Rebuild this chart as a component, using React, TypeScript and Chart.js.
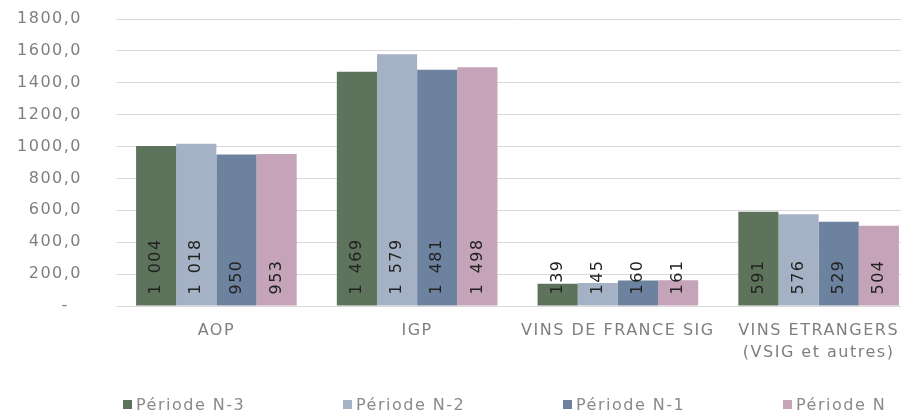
import React, { useEffect, useRef } from "react";
import { Chart, registerables } from "chart.js";

Chart.register(...registerables);

const categories: (string | string[])[] = [
  "AOP",
  "IGP",
  "VINS DE FRANCE SIG",
  ["VINS ETRANGERS", "(VSIG et autres)"],
];
const seriesNames = ["Période N-3", "Période N-2", "Période N-1", "Période N"];
const periodeN3 = [1004, 1469, 139, 591];
const periodeN2 = [1018, 1579, 145, 576];
const periodeN1 = [950, 1481, 160, 529];
const periodeN = [953, 1498, 161, 504];
const seriesColors = ["#5e735c", "#a5b1c4", "#6d829f", "#c5a3b8"];
const yMin = 0;
const yMax = 1800;
const yStep = 200;

const FONT = "'DejaVu Sans', sans-serif";

function fmtLabel(n: number): string {
  if (n >= 1000) {
    return `${Math.floor(n / 1000)}\u2002${String(n % 1000).padStart(3, "0")}`;
  }
  return String(n);
}

const spacingPlugin = {
  id: "letterSpacing",
  beforeDraw(chart: any) {
    chart.ctx.letterSpacing = "1.5px";
  },
};

const dataLabelPlugin = {
  id: "dataLabels",
  afterDatasetsDraw(chart: any) {
    const ctx = chart.ctx;
    ctx.save();
    ctx.letterSpacing = "1.5px";
    ctx.font = `16px ${FONT}`;
    ctx.fillStyle = "#222222";
    ctx.textAlign = "left";
    ctx.textBaseline = "middle";
    chart.data.datasets.forEach((ds: any, di: number) => {
      const meta = chart.getDatasetMeta(di);
      meta.data.forEach((bar: any, i: number) => {
        const v = ds.data[i];
        ctx.save();
        ctx.translate(bar.x, bar.base - 11);
        ctx.rotate(-Math.PI / 2);
        ctx.fillText(fmtLabel(v), 0, 0);
        ctx.restore();
      });
    });
    ctx.restore();
  },
};

const legendPlugin = {
  id: "customLegend",
  afterDraw(chart: any) {
    const ctx = chart.ctx;
    ctx.save();
    ctx.letterSpacing = "1.5px";
    ctx.font = `16px ${FONT}`;
    ctx.textAlign = "left";
    ctx.textBaseline = "middle";
    const startX = 123;
    const slot = 220;
    const cy = 405;
    chart.data.datasets.forEach((ds: any, i: number) => {
      const x = startX + i * slot;
      ctx.fillStyle = ds.backgroundColor;
      ctx.fillRect(x, cy - 5, 9, 9);
      ctx.fillStyle = "#8a8a8a";
      ctx.fillText(ds.label, x + 13, cy + 1);
    });
    ctx.restore();
  },
};

export default function App() {
  const ref = useRef<HTMLCanvasElement | null>(null);
  useEffect(() => {
    if (!ref.current) return;
    const allSeries = [periodeN3, periodeN2, periodeN1, periodeN];
    const chart = new Chart(ref.current, {
      type: "bar",
      data: {
        labels: categories,
        datasets: allSeries.map((d, i) => ({
          label: seriesNames[i],
          data: d,
          backgroundColor: seriesColors[i],
          borderWidth: 0,
          barPercentage: 1,
          categoryPercentage: 0.8,
        })),
      },
      options: {
        animation: false,
        responsive: false,
        maintainAspectRatio: false,
        layout: { padding: { top: 19, right: 6, bottom: 49, left: 0 } },
        plugins: {
          legend: { display: false },
          tooltip: { enabled: false },
          title: { display: false },
        },
        scales: {
          x: {
            grid: { display: false, drawTicks: false },
            border: { display: true, color: "#d9d9d9", width: 1 },
            ticks: {
              color: "#7f7f7f",
              font: { family: FONT, size: 16, lineHeight: 1.38 },
              padding: 14,
              maxRotation: 0,
              autoSkip: false,
            },
            afterFit(scale: any) {
              scale.height = 60;
              scale.paddingLeft = 0;
              scale.paddingRight = 0;
              scale.paddingTop = 0;
              scale.paddingBottom = 0;
            },
          },
          y: {
            min: yMin,
            max: yMax,
            grid: { color: "#d9d9d9", lineWidth: 1, drawTicks: false },
            border: { display: false },
            ticks: {
              stepSize: yStep,
              color: "#7f7f7f",
              font: { family: FONT, size: 16 },
              padding: 34,
              callback: (v: any) =>
                Number(v) === 0 ? "-  " : Number(v).toFixed(1).replace(".", ","),
            },
            afterFit(scale: any) {
              scale.width = 116;
              scale.paddingTop = 0;
              scale.paddingBottom = 0;
              scale.paddingLeft = 0;
              scale.paddingRight = 0;
            },
          },
        },
      },
      plugins: [spacingPlugin, dataLabelPlugin, legendPlugin],
    });
    return () => chart.destroy();
  }, []);
  return (
    <div
      style={{
        position: "fixed",
        left: 0,
        top: 0,
        width: 901,
        height: 415,
        overflow: "hidden",
        background: "#ffffff",
      }}
    >
      <canvas ref={ref} width={925} height={415} style={{ display: "block" }} />
    </div>
  );
}
